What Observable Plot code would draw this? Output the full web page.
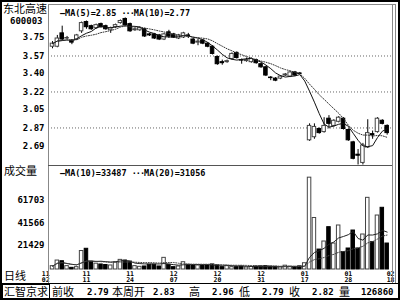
<!DOCTYPE html>
<html>
<head>
<meta charset="utf-8">
<script src="https://cdn.jsdelivr.net/npm/d3@7"></script>
<script src="https://cdn.jsdelivr.net/npm/@observablehq/plot@0.6"></script>
<style>
  html, body { margin: 0; padding: 0; background: #fff; }
  #root { position: relative; width: 400px; height: 300px; overflow: hidden; background: #fff; }
  .abs { position: absolute; }
  .cn { font-family: "Noto Sans CJK SC", sans-serif; font-size: 11px; line-height: 13px; color: #000; white-space: nowrap; }
  .num { font-family: "DejaVu Sans Mono", monospace; font-weight: bold; font-size: 9px; line-height: 12px; color: #000; white-space: nowrap; }
  .hl { position: absolute; height: 0; border-top: 1px solid #888; }
  .vl { position: absolute; width: 0; border-left: 1px solid #888; }
</style>
</head>
<body>
<div id="root"></div>
<script>
// ---- data ----
const opens  = [3.66,3.66,3.79,3.74,3.72,3.73,3.81,3.90,3.86,3.84,3.88,3.86,3.82,3.85,3.89,3.93,3.88,3.82,3.82,3.83,
                3.78,3.78,3.77,3.73,3.80,3.78,3.74,3.75,3.77,3.73,3.70,3.72,3.69,3.66,3.56,3.51,3.51,3.54,3.60,3.53,
                3.52,3.51,3.53,3.49,3.46,3.36,3.35,3.35,3.38,3.37,3.41,3.40,3.06,2.75,2.78,2.86,2.83,2.96,2.89,2.93,
                2.96,2.85,2.73,2.61,2.53,2.68,2.81,2.83,2.94,2.89];
const highs  = [3.71,3.77,3.86,3.76,3.73,3.78,3.90,3.91,3.87,3.88,3.89,3.87,3.85,3.88,3.92,3.94,3.89,3.84,3.85,3.84,
                3.79,3.79,3.78,3.79,3.82,3.79,3.78,3.80,3.79,3.74,3.73,3.73,3.70,3.67,3.57,3.53,3.53,3.60,3.61,3.54,
                3.55,3.55,3.54,3.50,3.47,3.37,3.36,3.38,3.40,3.42,3.42,3.41,3.06,2.91,2.91,2.87,2.97,2.99,2.95,2.98,
                2.97,2.86,2.74,2.66,2.72,2.95,2.84,2.97,2.95,2.90];
const lows   = [3.64,3.65,3.72,3.73,3.68,3.72,3.79,3.83,3.82,3.83,3.84,3.82,3.79,3.84,3.88,3.86,3.80,3.81,3.81,3.75,
                3.76,3.73,3.72,3.72,3.74,3.74,3.73,3.74,3.74,3.68,3.67,3.68,3.65,3.58,3.48,3.48,3.50,3.53,3.54,3.49,
                3.51,3.50,3.49,3.45,3.37,3.33,3.32,3.34,3.37,3.36,3.37,3.39,3.06,2.74,2.76,2.81,2.82,2.86,2.88,2.92,
                2.85,2.74,2.56,2.51,2.51,2.67,2.76,2.82,2.90,2.80];
const closes = [3.69,3.74,3.73,3.745,3.70,3.77,3.89,3.85,3.83,3.87,3.85,3.83,3.84,3.87,3.91,3.87,3.81,3.83,3.84,3.76,
                3.77,3.74,3.73,3.78,3.76,3.75,3.77,3.79,3.76,3.69,3.71,3.69,3.66,3.59,3.49,3.50,3.52,3.59,3.55,3.525,
                3.53,3.54,3.50,3.46,3.38,3.355,3.33,3.37,3.39,3.41,3.38,3.395,3.06,2.89,2.88,2.82,2.89,2.91,2.94,2.97,
                2.86,2.75,2.57,2.60,2.70,2.82,2.80,2.96,2.91,2.82];
const volumes = [3000,8000,7400,3000,1500,2100,16500,18500,7000,5200,4500,4000,3600,6300,8600,8000,7100,3000,2400,2700,
                 4200,4200,2700,10400,4200,2100,2700,6500,4200,3600,3600,3600,3600,4500,3600,2100,3000,2100,2100,2600,
                 1800,2200,2600,2800,3000,2600,2400,2000,3400,2600,2400,2800,5600,82000,46000,17800,25000,37800,23200,39300,
                 15500,18750,34800,18750,31250,64000,24400,48200,55100,23200];

const priceTicks = [3.75, 3.57, 3.40, 3.22, 3.05, 2.87, 2.69];
const priceGrid  = [3.57, 3.22, 2.87];
const volTicks   = [21429, 41566, 61703];
const dateMonths = ["11","11","11","12","12","12","01","01","02"];
const dateDays   = ["02","11","24","07","20","31","17","28","18"];
const dateIdx    = [-1.4, 7, 16, 25, 34, 43, 52, 61, 69.7];

const stockName = "东北高速", stockCode = "600003";
const ma5Label = "MA(5)=2.85", ma10Label = "MA(10)=2.77";
const vma10Label = "MA(10)=33487", vma20Label = "MA(20)=31056";
const infoItems = [["前收","2.79"],["本周开","2.83"],["高","2.96"],["低","2.79"],["收","2.82"],["量","126860"]];

// ---- build tables ----
const candles = opens.map((o, i) => ({i, open: o, high: highs[i], low: lows[i], close: closes[i], vol: volumes[i], up: closes[i] >= o}));
const dates = dateIdx.map((x, k) => ({x, t: dateMonths[k] + "\n" + dateDays[k]}));

const root = document.getElementById("root");
function add(html) { root.insertAdjacentHTML("beforeend", html); }

const xDomain = [-0.825, 70.1];
const half = 0.36;
const fontStyle = {fontFamily: "DejaVu Sans Mono, monospace", fontSize: "9px", fontWeight: "bold", background: "transparent", overflow: "visible"};

// ---- price panel ----
const price = Plot.plot({
  width: 400, height: 160,
  marginLeft: 48, marginRight: 8, marginTop: 0, marginBottom: 0,
  style: fontStyle,
  x: {domain: xDomain, axis: null},
  y: {domain: [2.505, 4.061]},
  marks: [
    Plot.ruleY(priceGrid, {stroke: "#666", strokeDasharray: "1,2"}),
    Plot.axisY({ticks: priceTicks, tickSize: 0, tickPadding: 4, tickFormat: d => d.toFixed(2), label: null, fill: "#000"}),
    Plot.ruleX(candles, {x: "i", y1: "low", y2: "high", stroke: "#000"}),
    Plot.rect(candles, {x1: d => d.i - half, x2: d => d.i + half, y1: "open", y2: "close",
      fill: d => d.up ? "#fff" : "#000", stroke: d => d.up ? "#444" : "#000"}),
    Plot.lineY(candles, Plot.windowY({k: 5, anchor: "end", reduce: "mean"}, {x: "i", y: "close", stroke: "#111", strokeWidth: 1})),
    Plot.lineY(candles, Plot.windowY({k: 10, anchor: "end", reduce: "mean"}, {x: "i", y: "close", stroke: "#333", strokeWidth: 1, strokeDasharray: "1,1.5"}))
  ]
});
const pdiv = document.createElement("div");
pdiv.className = "abs"; pdiv.style.left = "0px"; pdiv.style.top = "5px";
pdiv.appendChild(price); root.appendChild(pdiv);

// ---- volume panel ----
const vol = Plot.plot({
  width: 400, height: 117,
  marginLeft: 48, marginRight: 8, marginTop: 0, marginBottom: 14,
  style: fontStyle,
  x: {domain: xDomain, axis: null},
  y: {domain: [0, 91980]},
  marks: [
    Plot.axisY({ticks: volTicks, tickSize: 0, tickPadding: 4, tickFormat: d => String(d), label: null, fill: "#000"}),
    Plot.rect(candles, {x1: d => d.i - half, x2: d => d.i + half, y1: 0, y2: "vol",
      fill: d => d.up ? "#fff" : "#000", stroke: d => d.up ? "#444" : "#000"}),
    Plot.lineY(candles, Plot.windowY({k: 10, anchor: "end", reduce: "mean"}, {x: "i", y: "vol", stroke: "#222", strokeWidth: 1})),
    Plot.lineY(candles, Plot.windowY({k: 20, anchor: "end", reduce: "mean"}, {x: "i", y: "vol", stroke: "#444", strokeWidth: 1, strokeDasharray: "1,1.5"})),
    Plot.text(dates, {x: "x", text: "t", frameAnchor: "bottom", lineAnchor: "top", dy: 1.5, fontSize: 6.5, lineHeight: 1.0, fill: "#000"})
  ]
});
const vdiv = document.createElement("div");
vdiv.className = "abs"; vdiv.style.left = "0px"; vdiv.style.top = "166px";
vdiv.appendChild(vol); root.appendChild(vdiv);

// ---- frame lines ----
add(`<div class="abs" style="left:0;top:0;width:400px;height:300px;box-sizing:border-box;border:2px solid #000;"></div>`);
add(`<div class="hl" style="left:48px;top:4px;width:348px;"></div>`);
add(`<div class="vl" style="left:48px;top:4px;height:279px;"></div>`);
add(`<div class="vl" style="left:392px;top:4px;height:279px;"></div>`);
add(`<div class="vl" style="left:395px;top:4px;height:279px;"></div>`);
add(`<div class="hl" style="left:48px;top:165px;width:344px;border-color:#555;"></div>`);
add(`<div class="hl" style="left:0;top:283px;width:400px;border-color:#000;"></div>`);
add(`<div class="abs" style="left:2px;top:284px;width:46px;height:13px;border:1px solid #000;"></div>`);

// ---- texts ----
add(`<div class="abs cn" style="left:3px;top:2px;">${stockName}</div>`);
add(`<div class="abs num" style="left:10px;top:15px;">${stockCode}</div>`);
add(`<div class="abs num" style="left:60px;top:7px;font-size:8.5px;">—${ma5Label} <span style="letter-spacing:-1px">···</span>${ma10Label}</div>`);
add(`<div class="abs cn" style="left:4px;top:164px;">成交量</div>`);
add(`<div class="abs num" style="left:60px;top:167px;font-size:8.5px;">—${vma10Label} <span style="letter-spacing:-1px">···</span>${vma20Label}</div>`);
add(`<div class="abs cn" style="left:4px;top:269px;">日线</div>`);
add(`<div class="abs cn" style="left:4px;top:286px;line-height:11px;">汇智京求</div>`);
const infoPos = [[52, 87], [112, 153], [189, 212], [239, 262], [289, 312], [339, 361]];
infoItems.forEach(([a, b], k) => {
  add(`<div class="abs cn" style="left:${infoPos[k][0]}px;top:286px;line-height:11px;">${a}</div>`);
  add(`<div class="abs num" style="left:${infoPos[k][1]}px;top:287px;line-height:10px;">${b}</div>`);
});
</script>
</body>
</html>
